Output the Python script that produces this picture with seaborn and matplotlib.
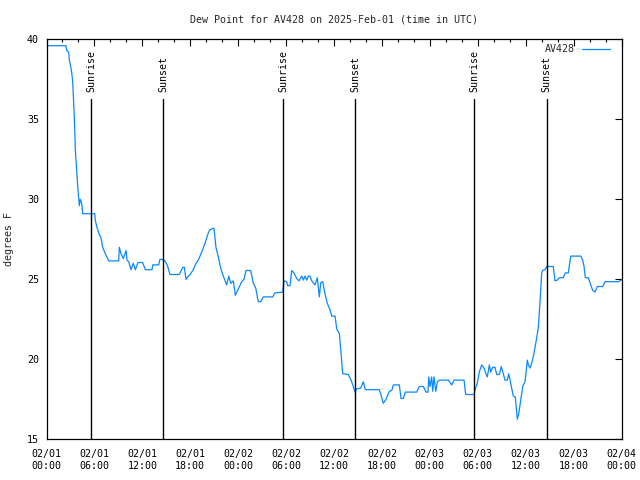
import matplotlib
matplotlib.use("Agg")
import matplotlib.pyplot as plt
import matplotlib.dates as mdates
import seaborn as sns
import pandas as pd

# ---- data (hours after 2025-02-01 00:00 UTC, dew point in F) ----
hours = [0.00, 2.44, 2.53, 2.78, 2.86, 3.07, 3.16, 3.28, 3.48, 3.61, 3.78, 3.91, 4.11, 4.23, 4.41, 4.53,
         6.04, 6.11, 6.29, 6.54, 6.82, 7.04, 7.36, 7.79, 9.04, 9.12, 9.33, 9.62, 9.96, 10.08, 10.29,
         10.58, 10.87, 11.12, 11.46, 12.05, 12.37, 13.21, 13.30, 14.05, 14.21, 14.63, 14.96, 15.18,
         15.46, 16.63, 17.06, 17.26, 17.47, 17.68, 17.98, 18.38, 18.72, 19.01, 19.43, 19.85, 20.26,
         20.47, 20.97, 21.22, 21.51, 21.81, 22.14, 22.56, 22.82, 23.07, 23.39, 23.57, 23.64, 24.02,
         24.44, 24.73, 24.98, 25.57, 25.90, 26.20, 26.52, 26.82, 27.15, 28.33, 28.61, 29.58, 29.65,
         29.74, 30.08, 30.20, 30.49, 30.70, 30.99, 31.33, 31.62, 31.96, 32.16, 32.37, 32.58, 32.78,
         33.00, 33.21, 33.62, 33.91, 34.16, 34.34, 34.59, 34.87, 35.16, 35.50, 35.71, 36.13, 36.34,
         36.67, 36.88, 37.09, 37.79, 38.13, 38.42, 38.63, 38.84, 39.34, 39.67, 39.92, 41.67, 41.84,
         42.17, 42.51, 42.93, 43.23, 43.43, 44.18, 44.39, 44.68, 44.93, 46.36, 46.68, 47.18, 47.52,
         47.77, 47.86, 48.02, 48.23, 48.36, 48.52, 48.74, 48.94, 49.19, 50.31, 50.74, 51.03, 52.28,
         52.49, 53.53, 53.66, 53.94, 54.19, 54.50, 54.78, 55.03, 55.20, 55.45, 55.62, 55.87, 56.16,
         56.37, 56.70, 56.95, 57.20, 57.41, 57.70, 57.88, 58.04, 58.25, 58.45, 58.70, 58.88, 58.96,
         59.13, 59.38, 59.63, 59.92, 60.21, 60.33, 60.54, 60.76, 61.05, 61.30, 61.58, 61.80, 62.01,
         62.13, 62.42, 62.63, 63.46, 63.67, 63.96, 64.21, 64.71, 64.96, 65.34, 65.64, 66.89, 67.14,
         67.31, 67.47, 67.84, 68.15, 68.40, 68.68, 68.97, 69.65, 69.94, 71.60, 72.00]
dew_point = [39.6, 39.6, 39.3, 39.2, 38.7, 38.2, 37.9, 37.35, 35.2, 33.1, 31.8, 30.8, 29.6, 30.0, 29.75, 29.1,
             29.1, 28.7, 28.3, 27.9, 27.6, 27.0, 26.6, 26.15, 26.15, 27.0, 26.6, 26.3, 26.8, 26.2, 26.1,
             25.6, 26.0, 25.6, 26.05, 26.05, 25.6, 25.6, 25.9, 25.9, 26.25, 26.25, 26.05, 25.8,
             25.3, 25.3, 25.75, 25.75, 25.0, 25.15, 25.3, 25.6, 26.0, 26.2, 26.7, 27.25, 27.9,
             28.1, 28.2, 27.0, 26.4, 25.7, 25.2, 24.65, 25.2, 24.75, 24.9, 24.3, 24.0, 24.4,
             24.85, 25.0, 25.55, 25.55, 24.75, 24.45, 23.6, 23.6, 23.9, 23.9, 24.15, 24.2, 24.5,
             24.9, 24.85, 24.6, 24.6, 25.55, 25.4, 25.05, 24.9, 25.2, 24.95, 25.2, 24.95, 25.2,
             25.2, 24.9, 24.65, 25.1, 23.9, 24.8, 24.85, 24.1, 23.5, 23.1, 22.7, 22.7, 21.9,
             21.6, 20.4, 19.1, 19.05, 18.7, 18.3, 17.95, 18.15, 18.2, 18.6, 18.1, 18.1, 17.85,
             17.25, 17.5, 18.0, 18.05, 18.4, 18.4, 17.55, 17.55, 17.95, 17.95, 18.3, 18.3, 17.95,
             17.95, 18.9, 18.3, 18.9, 18.0, 18.9, 18.0, 18.6, 18.7, 18.7, 18.4, 18.7, 18.7,
             17.8, 17.8, 18.1, 18.5, 19.2, 19.65, 19.45, 19.1, 18.9, 19.65, 19.2, 19.5, 19.5,
             19.05, 19.05, 19.55, 19.1, 18.7, 18.7, 19.1, 18.7, 18.2, 17.7, 17.65, 16.7, 16.25,
             16.6, 17.45, 18.3, 18.6, 19.95, 19.65, 19.45, 19.75, 20.4, 21.1, 21.95, 23.6, 25.4,
             25.55, 25.6, 25.8, 25.8, 24.9, 24.95, 25.1, 25.1, 25.4, 25.4, 26.45, 26.45, 26.2,
             25.8, 25.1, 25.1, 24.65, 24.3, 24.2, 24.55, 24.55, 24.85, 24.85, 24.95]

sun_times = ["2025-02-01 05:37", "2025-02-01 14:38", "2025-02-02 05:39",
             "2025-02-02 14:40", "2025-02-03 05:35", "2025-02-03 14:38"]
sun_labels = ["Sunrise", "Sunset", "Sunrise", "Sunset", "Sunrise", "Sunset"]

station = "AV428"
title = "Dew Point for AV428 on 2025-Feb-01 (time in UTC)"
y_label = "degrees F"
y_ticks = [15, 20, 25, 30, 35, 40]

start = pd.Timestamp("2025-02-01 00:00")
end = pd.Timestamp("2025-02-04 00:00")
df = pd.DataFrame({"time": start + pd.to_timedelta(hours, unit="h"), "dew": dew_point})

# ---- style ----
sns.set_style("white")
FONT = ["DejaVu Sans Mono", "DejaVu Sans"]
plt.rcParams["font.family"] = FONT
plt.rcParams["font.size"] = 7.2

fig = plt.figure(figsize=(6.4, 4.8), dpi=100)
ax = fig.add_axes([46.5 / 640, 1 - 439.3 / 480, 575 / 640, 400 / 480])

line_color = "#0a88ff"
sns.lineplot(data=df, x="time", y="dew", ax=ax, color=line_color, linewidth=0.9,
             estimator=None, sort=False, label=station)

for t, lab in zip(sun_times, sun_labels):
    tt = mdates.date2num(pd.Timestamp(t))
    ax.axvline(tt, ymin=0, ymax=0.851, color="black", linewidth=1.0)
    ax.text(tt, 0.868, lab, transform=ax.get_xaxis_transform(), rotation=90,
            ha="center", va="bottom", fontsize=7.2, color="black")

ax.set_xlim(start, end)
ax.set_ylim(15, 40)
ax.set_yticks(y_ticks)
ax.xaxis.set_major_locator(mdates.HourLocator(byhour=[0, 6, 12, 18]))
ax.xaxis.set_minor_locator(mdates.HourLocator(byhour=list(range(0, 24, 2))))
ax.xaxis.set_major_formatter(mdates.DateFormatter("%m/%d\n%H:%M"))

ax.tick_params(axis="both", which="both", direction="in", top=True, right=True,
               colors="black", labelsize=7.2)
ax.tick_params(axis="both", which="major", length=5, width=0.8)
ax.tick_params(axis="x", which="minor", length=2.5, width=0.8)
ax.tick_params(axis="x", which="major", pad=7)
ax.tick_params(axis="y", which="major", pad=5.5)
for lab in ax.get_xticklabels():
    lab.set_linespacing(1.2)

for s in ax.spines.values():
    s.set_color("black")
    s.set_linewidth(0.9)

ax.set_xlabel("")
ax.set_ylabel(y_label, fontsize=7.2)
ax.yaxis.set_label_coords((14 - 46.5) / 575, 0.5)
ax.set_title(title, fontsize=7.2, pad=12)

ax.legend(loc="center right", bbox_to_anchor=((610 - 46.5) / 575, (439.3 - 49.3) / 400),
          frameon=False, markerfirst=False, handlelength=2.8, handletextpad=0.75,
          borderpad=0, borderaxespad=0, fontsize=7.2)

fig.savefig("out.png", dpi=100)
